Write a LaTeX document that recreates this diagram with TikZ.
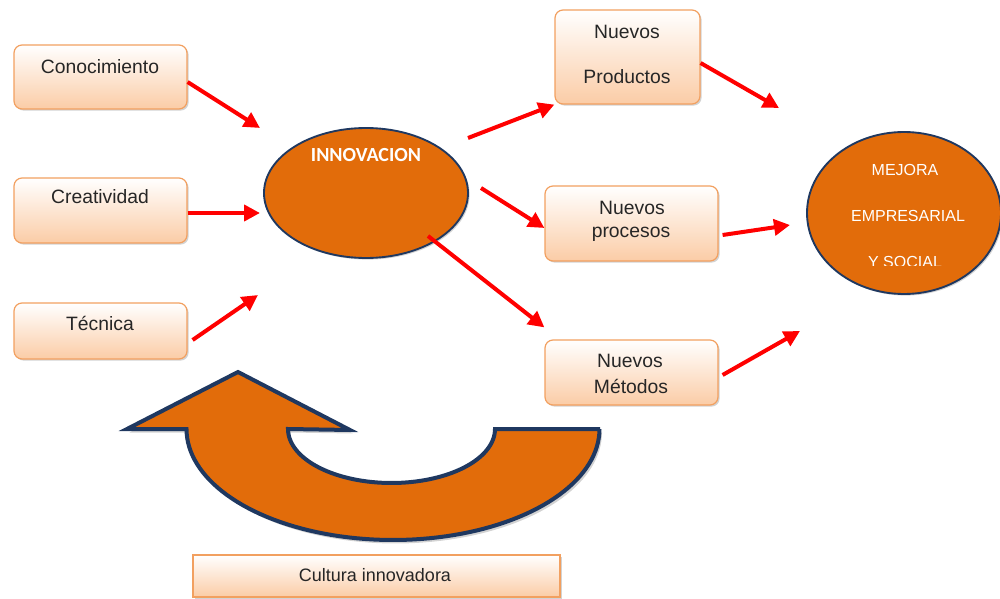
\documentclass[tikz,border=0pt]{standalone}
\usepackage{fontspec}
\setmainfont{Liberation Sans}
\newfontfamily\calibri{Carlito}
\usetikzlibrary{arrows.meta,shadows,calc,shapes.geometric}
\definecolor{orfill}{RGB}{226,108,10}
\definecolor{navy}{RGB}{31,56,96}
\definecolor{peach}{RGB}{251,204,166}
\definecolor{boxborder}{RGB}{242,160,96}
\definecolor{redarrow}{RGB}{255,0,0}
\begin{document}
\begin{tikzpicture}[x=0.75pt,y=-0.75pt,
  box/.style={rectangle, rounded corners=6pt, draw=boxborder, line width=0.9pt,
    top color=white, bottom color=peach, inner sep=0pt,
    drop shadow={shadow xshift=1.2pt, shadow yshift=-1.2pt, opacity=0.35, fill=gray}},
  flatbox/.style={box, rounded corners=0pt},
  lbl/.style={font=\fontsize{14.5}{17}\selectfont, text=black!85, inner sep=0pt},
  oval/.style={ellipse, fill=orfill, draw=navy, line width=1.4pt, inner sep=0pt,
    drop shadow={shadow xshift=1.2pt, shadow yshift=-1.2pt, opacity=0.35, fill=gray}},
  wlbl/.style={font=\fontsize{12}{14}\selectfont, text=white, inner sep=0pt},
  redarr/.style={draw=redarrow, line width=3pt, -{Triangle[length=12pt,width=12pt]}}
]
\useasboundingbox (0,0) rectangle (1000,599);

% boxes
\node[box, minimum width=129.75pt, minimum height=48pt] (cono) at (100.5,77) {};
\node[lbl] (conot) at (100,67) {Conocimiento};
\node[box, minimum width=129.75pt, minimum height=48.75pt] (crea) at (100.5,210.5) {};
\node[lbl] (creat) at (100,197) {Creatividad};
\node[box, minimum width=129.75pt, minimum height=42pt] (tec) at (100.5,331) {};
\node[lbl] (tect) at (100,323) {Técnica};

\node[box, minimum width=108.75pt, minimum height=70.5pt] (prod) at (627.5,57) {};
\node[lbl] (prodt1) at (627,32) {Nuevos};
\node[lbl] (prodt2) at (627,77) {Productos};
\node[box, minimum width=129.75pt, minimum height=56.25pt] (proc) at (631.5,223.5) {};
\node[lbl] (proct1) at (632,208) {Nuevos};
\node[lbl] (proct2) at (631,234) {procesos};
\node[box, minimum width=129.75pt, minimum height=48.75pt] (met) at (631.5,372.5) {};
\node[lbl] (mett1) at (630,361) {Nuevos};
\node[lbl] (mett2) at (631,386) {Métodos};

\node[flatbox, minimum width=275.25pt, minimum height=31.5pt] (cult) at (376.5,576) {};
\node[lbl, font=\fontsize{13.5}{16}\selectfont] (cultt) at (375,575) {Cultura innovadora};

% ellipses
\node[oval, minimum width=153pt, minimum height=97.5pt] (innov) at (366,193) {};
\node[inner sep=0pt, text=white, font=\calibri\bfseries\fontsize{15}{18}\selectfont] (innovt) at (366,155) {INNOVACION};

\node[oval, minimum width=145.5pt, minimum height=121.5pt] (mejora) at (904,213) {};
\node[wlbl] (mej1) at (905,170) {MEJORA};
\node[wlbl] (mej2) at (908,216) {EMPRESARIAL};
\begin{scope}
  \clip (850,240) rectangle (960,265);
  \node[wlbl] (mej3) at (905,262) {Y SOCIAL};
\end{scope}

% curved arrow
\def\curvearrow{(600,429) -- plot[domain=0:180,samples=80] ({393+206.5*cos(\x)},{429+111*sin(\x)})
   -- (127,429) -- (238,372) -- (350,430) -- (288,429)
   -- plot[domain=180:0,samples=80] ({391.5+103.5*cos(\x)},{429+54*sin(\x)}) -- cycle}
\fill[gray, opacity=0.35, shift={(2.5,3.5)}] \curvearrow;
\filldraw[fill=orfill, draw=navy, line width=3pt, line join=miter] \curvearrow;

% arrow end coordinates
\coordinate (e1) at ($(innov)+(-106,-65)$);
\coordinate (e2) at ($(innov)+(-106,20)$);
\coordinate (e3) at ($(innov)+(-108,102)$);
\coordinate (e7) at (779,108);
\coordinate (e8) at (790,225);
\coordinate (e9) at (800,331);

% red arrows
\draw[redarr] ($(cono.east)+(0,5)$) -- (e1);
\draw[redarr] ($(crea.east)+(0,2.5)$) -- (e2);
\draw[redarr] ($(tec.east)+(5,9)$) -- (e3);
\draw[redarr] ($(innov)+(102,-55)$) -- (prod.south west);
\draw[redarr] ($(innov)+(115,-5)$) -- ($(proc.west)+(0,4.5)$);
\draw[redarr] ($(innov)+(62,43)$) -- ($(met.north west)+(0,-12)$);
\draw[redarr] ($(prod.east)+(0,6)$) -- (e7);
\draw[redarr] ($(proc.east)+(4,11.5)$) -- (e8);
\draw[redarr] ($(met.east)+(4,2.5)$) -- (e9);
\end{tikzpicture}
\end{document}
